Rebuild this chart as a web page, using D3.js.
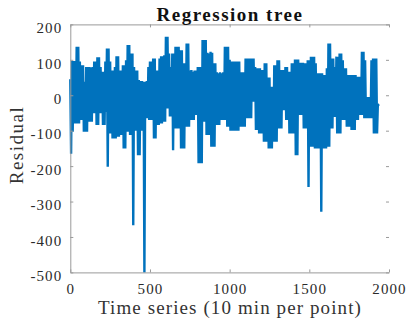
<!DOCTYPE html>
<html>
<head>
<meta charset="utf-8">
<script src="https://cdn.jsdelivr.net/npm/d3@7"></script>
<style>
  html, body { margin: 0; padding: 0; background: #fff; }
  svg { display: block; }
  text { font-family: "Liberation Serif", "DejaVu Serif", serif; }
</style>
</head>
<body>
<svg id="chart" width="406" height="322"></svg>
<script>
// ---- data ----
const title = "Regression tree";
const xLabel = "Time series (10 min per point)";
const yLabel = "Residual";
const xTicks = [0, 500, 1000, 1500, 2000];
const yTicks = [-500, -400, -300, -200, -100, 0, 100, 200];
const tStart = 0, tStep = 10;
// upper envelope of the residual trace (every 10 points)
const residualHigh = [
  45, 97, 97, 97, 137, 137, 95, 85, 85, 38,
  80, 80, 80, 78, 80, 95, 95, 107, 107, 80,
  66, 66, 95, 132, 132, 95, 70, 70, 80, 110,
  110, 70, 70, 85, 85, 99, 142, 142, 118, 118,
  80, 70, 70, 43, 40, 40, 38, 38, 40, 80,
  95, 95, 104, 104, 70, 70, 104, 110, 110, 113,
  165, 165, 118, 80, 118, 118, 137, 137, 137, 127,
  127, 90, 90, 146, 146, 70, 71, 66, 70, 70,
  80, 80, 80, 156, 156, 156, 120, 118, 123, 120,
  90, 90, 65, 62, 65, 62, 65, 137, 137, 137,
  100, 95, 95, 95, 95, 95, 95, 65, 65, 65,
  104, 104, 104, 104, 104, 104, 80, 76, 76, 76,
  71, 71, 90, 90, 50, 50, 24, 24, 85, 85,
  99, 99, 71, 71, 71, 80, 80, 66, 66, 90,
  90, 101, 101, 101, 92, 92, 92, 90, 90, 99,
  99, 109, 109, 109, 90, 62, 62, 62, 62, 57,
  57, 76, 146, 146, 104, 104, 80, 109, 109, 118,
  118, 99, 76, 76, 57, 57, 57, 57, 57, 57,
  52, 52, 52, 123, 123, 99, -5, -5, -5, 99,
  104, 104, 104, -25
];
// lower envelope of the residual trace (every 10 points)
const residualLow = [
  -165, -103, -80, -80, -80, -80, -70, -70, -103, -103,
  -103, -75, -75, -75, -51, -51, -84, -84, -51, -51,
  -84, -84, -47, -202, -108, -108, -122, -122, -122, -117,
  -117, -112, -112, -150, -150, -103, -103, -112, -112, -367,
  -100, -100, -169, -169, -100, -100, -500, -65, -65, -70,
  -70, -70, -122, -122, -84, -84, -80, -80, -75, -75,
  -37, -37, -60, -60, -155, -94, -94, -94, -94, -150,
  -150, -150, -89, -89, -89, -70, -70, -70, -56, -56,
  -192, -192, -192, -75, -75, -112, -112, -112, -145, -145,
  -145, -84, -84, -84, -70, -70, -70, -70, -89, -89,
  -100, -100, -100, -100, -100, -100, -89, -89, -89, -89,
  -65, -65, -65, -65, -18, -18, -98, -98, -108, -108,
  -108, -131, -131, -131, -150, -150, -150, -131, -131, -131,
  -94, -94, -94, -42, -42, -70, -70, -108, -108, -108,
  -108, -169, -169, -56, -56, -56, -94, -94, -94, -259,
  -145, -145, -145, -150, -150, -150, -150, -329, -150, -150,
  -150, -145, -145, -94, -94, -61, -61, -108, -108, -108,
  -70, -70, -70, -89, -89, -89, -98, -98, -98, -70,
  -70, -56, -56, -56, -65, -65, -65, -65, -65, -65,
  -108, -108, -108, -30
];

// ---- build the trace (alternating high / low samples) ----
const trace = [];
residualHigh.forEach((h, i) => {
  const t = tStart + i * tStep;
  trace.push([t, h]);
  trace.push([t + tStep / 2, residualLow[i]]);
});

const svg = d3.select("#chart");
const x = d3.scaleLinear().domain([0, 2000]).range([70.3, 389]);
const y = d3.scaleLinear().domain([-500, 200]).range([272.4, 24.4]);

const axisColor = "#9a9a9a";
const labelColor = "#2a2a2a";
const fmt = d => String(d);

// trace
svg.append("path")
  .datum(trace)
  .attr("fill", "none")
  .attr("stroke", "#0072BD")
  .attr("stroke-width", 2.4)
  .attr("stroke-linejoin", "bevel")
  .attr("d", d3.line().x(d => x(d[0])).y(d => y(d[1])));

// axes
function styleAxis(g, showDomain) {
  g.selectAll(".tick line").attr("stroke", axisColor);
  g.selectAll(".tick text").attr("fill", labelColor).attr("font-size", 15)
    .attr("font-family", "'Liberation Serif', serif").attr("letter-spacing", "1.1px");
  if (showDomain) g.select(".domain").attr("stroke", axisColor);
  else g.select(".domain").remove();
}
svg.append("g").attr("transform", `translate(0,${y(-500)})`)
  .call(d3.axisBottom(x).tickValues(xTicks).tickFormat(fmt).tickSizeInner(-3).tickSizeOuter(0).tickPadding(11))
  .call(g => styleAxis(g, true));
svg.append("g").attr("transform", `translate(${x(0)},0)`)
  .call(d3.axisLeft(y).tickValues(yTicks).tickFormat(fmt).tickSizeInner(-3).tickSizeOuter(0).tickPadding(8))
  .call(g => styleAxis(g, true))
  .call(g => g.selectAll(".tick text").attr("dy", "0.55em"));
svg.append("g").attr("transform", `translate(0,${y(200)})`)
  .call(d3.axisTop(x).tickValues(xTicks).tickSizeInner(-3).tickSizeOuter(0).tickFormat(""))
  .call(g => styleAxis(g, true));
svg.append("g").attr("transform", `translate(${x(2000)},0)`)
  .call(d3.axisRight(y).tickValues(yTicks).tickSizeInner(-3).tickSizeOuter(0).tickFormat(""))
  .call(g => styleAxis(g, false));

// title and labels
svg.append("text")
  .attr("x", 230).attr("y", 21)
  .attr("text-anchor", "middle")
  .attr("font-size", 19).attr("font-weight", "bold").attr("fill", "#111")
  .attr("letter-spacing", "1.5px")
  .text(title);
svg.append("text")
  .attr("x", 230).attr("y", 314)
  .attr("text-anchor", "middle")
  .attr("font-size", 19).attr("fill", "#333")
  .attr("letter-spacing", "1.1px")
  .text(xLabel);
svg.append("text")
  .attr("transform", "translate(23,145) rotate(-90)")
  .attr("text-anchor", "middle")
  .attr("font-size", 19).attr("fill", "#333")
  .attr("letter-spacing", "1.5px")
  .text(yLabel);
</script>
</body>
</html>
